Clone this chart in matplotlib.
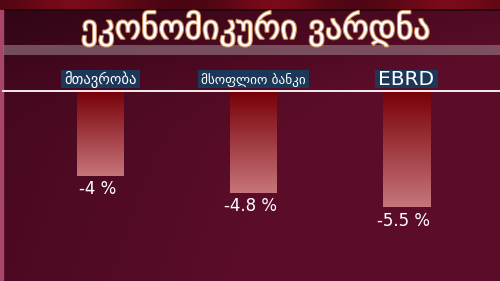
import numpy as np
import matplotlib
matplotlib.use("Agg")
import matplotlib.pyplot as plt
import matplotlib.patheffects as pe
from matplotlib.patches import Rectangle

# Forecasts of the economic downturn
title = "ეკონომიკური ვარდნა"
sources = ["მთავრობა", "მსოფლიო ბანკი", "EBRD"]
values = [-4.0, -4.8, -5.5]
value_labels = ["-4 %", "-4.8 %", "-5.5 %"]

W, H = 500, 281
fig = plt.figure(figsize=(W / 100, H / 100), dpi=100)

# ---- background -------------------------------------------------------
bg = fig.add_axes([0, 0, 1, 1])
bg.set_xlim(0, W)
bg.set_ylim(H, 0)
bg.axis("off")

xx, yy = np.meshgrid(np.linspace(0, 1, W), np.linspace(0, 1, H))
dark = np.array([0.20, 0.02, 0.09])
mid = np.array([0.36, 0.05, 0.16])
t = np.clip(0.45 + 0.8 * xx + 0.15 * yy - 0.5 * np.exp(-(yy / 0.25) ** 2), 0, 1)[..., None]
img = dark * (1 - t) + mid * t
# warm strip above the panel
top = (yy * H < 10)[..., None].astype(float)
glow = (np.exp(-((xx - 0.15) / 0.12) ** 2) + np.exp(-((xx - 0.55) / 0.1) ** 2)
        + np.exp(-((xx - 0.9) / 0.12) ** 2))[..., None]
img = img * (1 - top) + top * (np.array([0.28, 0.02, 0.07]) + 0.2 * glow * np.array([1, 0.1, 0.15]))
img = np.clip(img, 0, 1)
bg.imshow(img, extent=[0, W, H, 0], aspect="auto", interpolation="bilinear", zorder=0)

# panel border at the top and left edge
bg.plot([3, W], [10, 10], color="#22030c", lw=1.2, zorder=1)
bg.fill_between([0, 2.5], 10, H, color="#a8466a", zorder=1)

# grey band under the title
bg.fill_between([3, W], 44.5, 54.5, color="#8c6c78", alpha=0.7, lw=0, zorder=1)

# title
bg.text(256, 29, title, ha="center", va="center", fontsize=24, color="white",
        family=["DejaVu Sans"], zorder=3,
        path_effects=[pe.withStroke(linewidth=1.6, foreground="#c98a55")])

# white baseline
bg.plot([3, W], [91, 91], color="white", lw=1.3, zorder=3)

# ---- bars ---------------------------------------------------------------
px_per_unit = 21.0
ax = fig.add_axes([0, 0, 1, (H - 92) / H])
spacing = 153.0
first_center = 100.5
ax.axis("off")
ax.patch.set_alpha(0)

x = np.arange(len(values))
bar_w = 47 / spacing
bars = ax.bar(x, values, width=bar_w, color="none", zorder=2)

grad = np.linspace(0, 1, 256)[:, None]
top_c = np.array([0.47, 0.0, 0.03])
bot_c = np.array([0.78, 0.46, 0.48])
grad_img = top_c * (1 - grad[..., None]) + bot_c * grad[..., None]
for b, v, lab in zip(bars, values, value_labels):
    x0 = b.get_x()
    ax.imshow(grad_img, extent=[x0, x0 + b.get_width(), v, 0], aspect="auto",
              interpolation="bilinear", zorder=2)
    ax.text(x0 + b.get_width() / 2 - 0.02, v - 0.2, lab, ha="center", va="top",
            fontsize=12, color="white", zorder=3)
ax.set_xlim(-first_center / spacing, (W - first_center) / spacing)
ax.set_ylim(-(H - 92) / px_per_unit, 0)

# source labels in boxes above the bars
fig.canvas.draw()
renderer = fig.canvas.get_renderer()
label_sizes = [10.5, 9.5, 14.5]
for xi, s, fs in zip(x, sources, label_sizes):
    cx = first_center + xi * spacing
    txt = bg.text(cx, 79.5, s, ha="center", va="center", fontsize=fs,
                  color="white", family=["DejaVu Sans"], zorder=4)
    ext = txt.get_window_extent(renderer)
    w = ext.width + 6
    bg.add_patch(Rectangle((cx - w / 2, 70), w, 18, fc="#1c3858", ec="none", zorder=3))

fig.savefig("out.png", dpi=100)
